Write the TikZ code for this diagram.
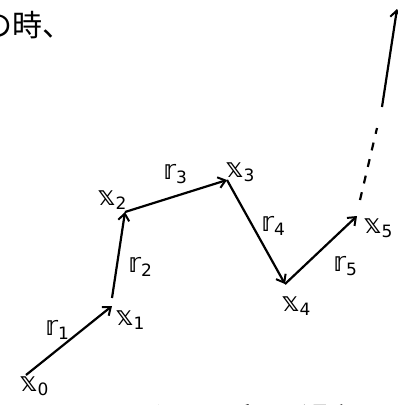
\documentclass[tikz,border=0pt]{standalone}
\usepackage{fontspec}
\newfontfamily\cjk{Noto Sans CJK JP}
\newfontfamily\dv{DejaVu Sans}
\usetikzlibrary{arrows.meta}
\newcommand{\sx}[1]{{\fontsize{17}{17}\selectfont\raisebox{-4pt}{#1}}}
\begin{document}
\begin{tikzpicture}[x=1pt,y=-1pt,
  vec/.style={line width=2.2pt,-{Straight Barb[length=7pt,width=11pt,line width=2pt]}},
  lab/.style={font=\dv\fontsize{27}{27}\selectfont,inner sep=0pt},
  jp/.style={font=\cjk\fontsize{30}{30}\selectfont,inner sep=0pt,anchor=west}]
\useasboundingbox (0,0) rectangle (398,405);
\begin{scope}
\clip (0,0) rectangle (398,405);
\node[jp] (top) at (-18,25) {の時、};
\node[jp] (bot) at (115,418) {ベクトル和の 過程};
\end{scope}
\coordinate (p0) at (26,375);
\coordinate (p1) at (112,306);
\coordinate (p2) at (125,212);
\coordinate (p3) at (227,180);
\coordinate (p4) at (285,284);
\coordinate (p5) at (357,216);
\coordinate (d1) at (360,200);
\coordinate (d2) at (377,128);
\coordinate (s1) at (382,107);
\coordinate (s2) at (397,9);
\coordinate (q1) at (112,298);
\draw[vec] (p0) -- (p1);
\draw[vec] (q1) -- (p2);
\draw[vec] (p2) -- (p3);
\draw[vec] (p3) -- (p4);
\draw[vec] (p4) -- (p5);
\draw[line width=2.2pt,dash pattern=on 8pt off 9pt] (d1) -- (d2);
\draw[vec] (s1) -- (s2);
\node[lab] (x0) at (34,386) {𝕩\sx{0}};
\node[lab] (x1) at (130,320) {𝕩\sx{1}};
\node[lab] (x2) at (112,200) {𝕩\sx{2}};
\node[lab] (x3) at (240,172) {𝕩\sx{3}};
\node[lab] (x4) at (296,306) {𝕩\sx{4}};
\node[lab] (x5) at (378,228) {𝕩\sx{5}};
\node[lab] (r1) at (57,330) {𝕣\sx{1}};
\node[lab] (r2) at (140,267) {𝕣\sx{2}};
\node[lab] (r3) at (175,174) {𝕣\sx{3}};
\node[lab] (r4) at (273,226) {𝕣\sx{4}};
\node[lab] (r5) at (345,266) {𝕣\sx{5}};
\end{tikzpicture}
\end{document}
